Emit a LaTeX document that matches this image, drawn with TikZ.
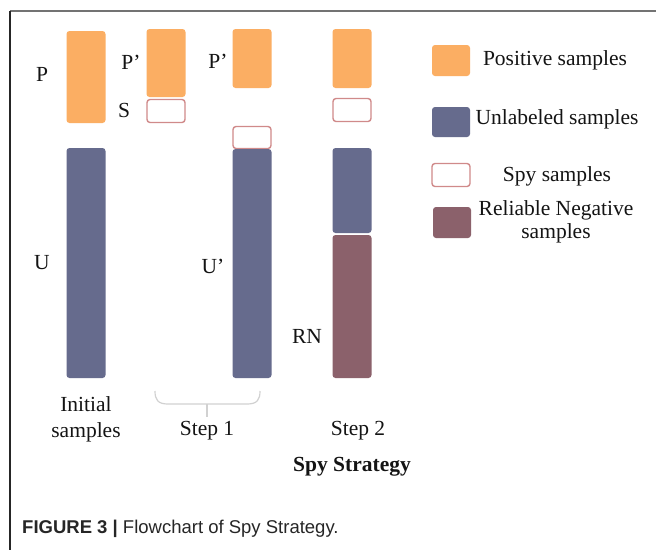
\documentclass[tikz,border=0pt]{standalone}
\usepackage{fontspec}
\setmainfont{Liberation Serif}
\newfontfamily\capfont{Liberation Sans}
\definecolor{posc}{HTML}{FBAE63}
\definecolor{unlc}{HTML}{666B8D}
\definecolor{rnc}{HTML}{8B616B}
\definecolor{spyc}{HTML}{D08A8A}
\begin{document}
\begin{tikzpicture}[x=1pt,y=-1pt,
  bar/.style={rounded corners=3pt,inner sep=0pt,outer sep=0pt,minimum width=39pt},
  posbar/.style={bar,fill=posc},
  unlbar/.style={bar,fill=unlc},
  rnbar/.style={bar,fill=rnc},
  spybar/.style={bar,draw=spyc,line width=1.4pt,fill=white,minimum width=38pt},
  lbl/.style={font=\fontsize{21.5}{24}\selectfont,inner sep=0pt,text=black!92},
  leg/.style={font=\fontsize{21.5}{24}\selectfont,inner sep=0pt,align=center,text=black!92}]
\useasboundingbox (0,0) rectangle (656,550);
\fill[white] (0,0) rectangle (656,550);
% frame
\draw[black!55,line width=1.8pt] (10,11) -- (656,11);
\draw[black!85,line width=1.2pt] (10,11) -- (10,550);
% column 1
\node[posbar,minimum height=92pt] (p0) at (86,77) {};
\node[unlbar,minimum height=230pt] (u0) at (86,263) {};
% column 2
\node[posbar,minimum height=68pt] (p1) at (166,63) {};
\node[spybar,minimum height=23pt] (s1) at (166,111) {};
% column 3
\node[posbar,minimum height=59pt] (p2) at (252,58.5) {};
\node[spybar,minimum height=22pt] (s2) at (252,137.5) {};
\node[unlbar,minimum height=229pt] (u2) at (252,263.5) {};
% column 4
\node[posbar,minimum height=59pt] (p3) at (352,58.5) {};
\node[spybar,minimum height=23pt] (s3) at (352,110) {};
\node[unlbar,minimum height=85pt] (u3) at (352,190.5) {};
\node[rnbar,minimum height=143pt] (r3) at (352,306.5) {};
% labels
\node[lbl] (lp0) at (42,74) {P};
\node[lbl] (lu0) at (42,263) {U};
\node[lbl] (lp1) at (131,62) {P’};
\node[lbl] (ls1) at (124,110) {S};
\node[lbl] (lp2) at (218,61) {P’};
\node[lbl] (lu2) at (213,266) {U’};
\node[lbl] (lr3) at (307,336) {RN};
% legend
\node[posbar,minimum width=38pt,minimum height=31pt] (kp) at (451,60.5) {};
\node[leg] (tp) at (555,60) {Positive samples};
\node[unlbar,minimum width=38pt,minimum height=30pt] (ku) at (451,122) {};
\node[leg] (tu) at (557,119) {Unlabeled samples};
\node[spybar,minimum width=38pt,minimum height=23pt] (ks) at (451,175) {};
\node[leg] (ts) at (557,176) {Spy samples};
\node[rnbar,minimum width=38pt,minimum height=31pt] (kr) at (452,222.5) {};
\node[leg] (tr) at (556,222) {Reliable Negative\\[-1pt]samples};
% bottom captions
\node[leg] (ti) at (86,419) {Initial\\[2pt]samples};
\node[leg] (t1) at (207,431) {Step 1};
\node[leg] (t2) at (358,431) {Step 2};
\node[leg,font=\fontsize{21.5}{24}\selectfont\bfseries] (ts2) at (352,467) {Spy Strategy};
% bracket
\coordinate (bl) at (155,391);
\coordinate (br) at (260,391);
\coordinate (bm) at (207,404);
\coordinate (bt) at (207,417);
\draw[black!18,line width=1.2pt] (bl) .. controls (155,400) and (158,404) .. (168,404) -- (247,404) .. controls (257,404) and (260,400) .. (br);
\draw[black!18,line width=1.2pt] (bm) -- (bt);
% figure caption
\node[anchor=west,inner sep=0pt,font=\capfont\fontsize{18.5}{20}\selectfont,text=black!85] (cap) at (22,529) {\textbf{FIGURE 3 |} Flowchart of Spy Strategy.};
\end{tikzpicture}
\end{document}
